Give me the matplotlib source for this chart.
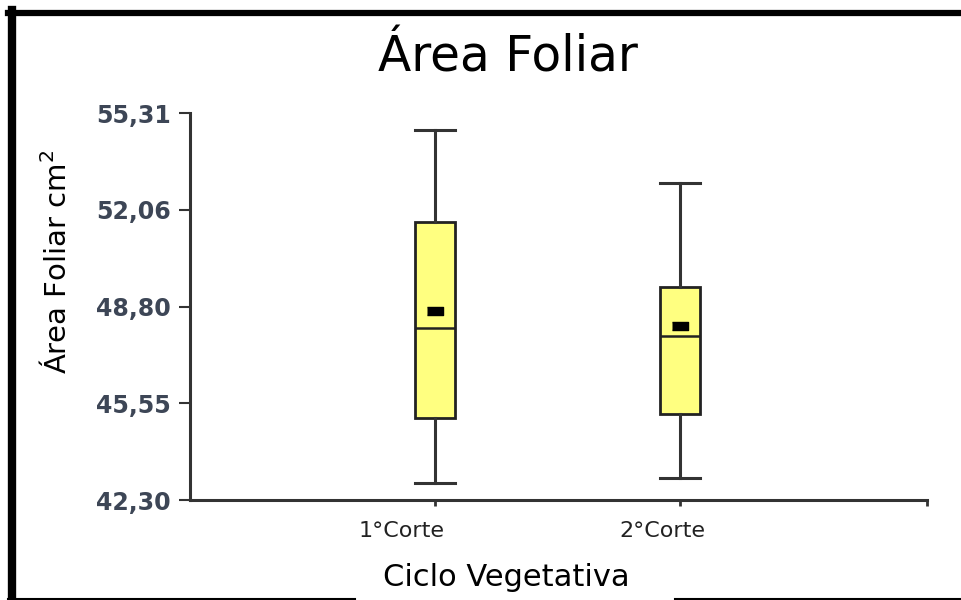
import matplotlib.pyplot as plt
from matplotlib.lines import Line2D
from matplotlib.transforms import ScaledTranslation

# values
grupos = ['1°Corte', '2°Corte']
minimo = [42.87, 43.04]
q1 = [45.06, 45.19]
mediana = [48.08, 47.81]
q3 = [51.65, 49.46]
maximo = [54.74, 52.96]
media = [48.65, 48.15]
y_ticks = [42.30, 45.55, 48.80, 52.06, 55.31]
y_labels = ['42,30', '45,55', '48,80', '52,06', '55,31']

fig = plt.figure(figsize=(9.62, 6.0), dpi=100)
ax = fig.add_axes([190/962, 100/600, 737/962, 387/600])

stats = []
for i in range(len(grupos)):
    stats.append(dict(label=grupos[i], whislo=minimo[i], q1=q1[i], med=mediana[i],
                      q3=q3[i], whishi=maximo[i], mean=media[i], fliers=[]))

ax.bxp(stats, positions=[1, 2], widths=0.165, showmeans=True, patch_artist=True,
       boxprops=dict(facecolor='#ffff80', edgecolor='#222222', linewidth=2),
       medianprops=dict(color='#222222', linewidth=1.8),
       whiskerprops=dict(color='#333333', linewidth=2.2),
       capprops=dict(color='#333333', linewidth=2.2),
       capwidths=0.165,
       meanprops=dict(marker=[(-2, -1), (2, -1), (2, 1), (-2, 1)], markersize=11,
                      markerfacecolor='black', markeredgecolor='black'))

ax.set_xlim(0, 3.01)
ax.set_ylim(42.30, 55.31)

ax.spines['top'].set_visible(False)
ax.spines['right'].set_visible(False)
for s in ['left', 'bottom']:
    ax.spines[s].set_color('#333333')
    ax.spines[s].set_linewidth(2.2)

ax.set_yticks(y_ticks)
ax.set_yticklabels(y_labels, fontsize=17, fontweight='bold', color='#3d4656')
ax.tick_params(axis='y', length=8, width=1.5, color='#333333', pad=6)

ax.set_xticks([1, 2, 3.01])
ax.set_xticklabels(grupos + [''], fontsize=16, color='#222222')
ax.tick_params(axis='x', length=4, width=2, color='#333333', pad=11)
offs = [-33, -17, 0]
for lab, dx in zip(ax.get_xticklabels(), offs):
    lab.set_transform(lab.get_transform() + ScaledTranslation(dx/100, 0, fig.dpi_scale_trans))

fig.text(56/962, 1 - 262/600, 'Área Foliar cm$^2$', fontsize=21, rotation=90,
         ha='center', va='center')
fig.text(506/962, 1 - 577/600, 'Ciclo Vegetativa', fontsize=22, ha='center', va='center',
         bbox=dict(facecolor='white', edgecolor='none', pad=2))

fig.text(508/962, 1 - 57/600, 'Área Foliar', fontsize=35, ha='center', va='center')

# black frame around the picture
fig.add_artist(Line2D([8/962, 1], [587/600, 587/600], color='black', lw=4.5, transform=fig.transFigure))
fig.add_artist(Line2D([12/962, 12/962], [0, 590/600], color='black', lw=6, transform=fig.transFigure))
fig.add_artist(Line2D([8/962, 355/962], [1/600, 1/600], color='black', lw=1.5, transform=fig.transFigure))
fig.add_artist(Line2D([675/962, 1], [1/600, 1/600], color='black', lw=1.5, transform=fig.transFigure))

plt.savefig('out.png', dpi=100)
